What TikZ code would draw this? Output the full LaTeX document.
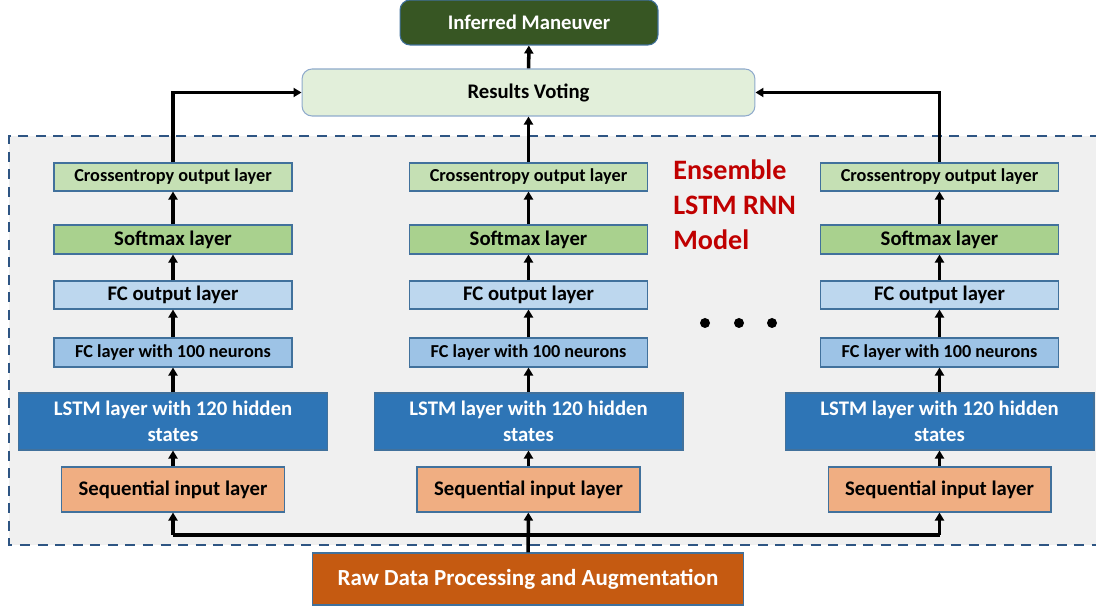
\documentclass[tikz,border=0pt]{standalone}
\usepackage{fontspec}
\setmainfont{Carlito}
\usepackage{tikz}
\usetikzlibrary{arrows.meta}
\usetikzlibrary{positioning}
\definecolor{edgeblue}{HTML}{41719C}
\definecolor{dashblue}{HTML}{2E5583}
\definecolor{panelgrey}{HTML}{F0F0F0}
\definecolor{crossgreen}{HTML}{C5E0B4}
\definecolor{softgreen}{HTML}{A9D18E}
\definecolor{fcoutblue}{HTML}{BDD7EE}
\definecolor{fchidblue}{HTML}{9DC3E6}
\definecolor{lstmblue}{HTML}{2E75B6}
\definecolor{inpeach}{HTML}{F0AE82}
\definecolor{rawbrown}{HTML}{C55A11}
\definecolor{votegreen}{HTML}{E2EFDA}
\definecolor{votedge}{HTML}{8FAACC}
\definecolor{outgreen}{HTML}{375623}
\definecolor{ensred}{HTML}{C00000}
\tikzset{layer/.style = {draw=edgeblue, rectangle, inner sep = 0, align = center,
    font = \bfseries\fontsize{11.8}{14.5}\selectfont, line width = 0.6pt}}
\tikzset{small/.style = {font = \bfseries\fontsize{10.4}{12.5}\selectfont}}
\tikzset{flow/.style = {-{Triangle[length = 0.16cm, width = 0.18cm]}, line width = 2pt}}
\tikzset{dot/.style = {fill, circle, inner sep = 0, minimum size = 0.2cm}}

\begin{document}
\begin{tikzpicture}[x = 0.02cm, y = -0.02cm]
    \useasboundingbox (0, 0) rectangle (1096, 607);
    % ensemble panel
    \fill [panelgrey] (9, 136) rectangle (1100, 545);
    \draw [dashblue, line width = 1.5pt, dash pattern = on 5.7pt off 4.3pt]
      (1100, 136) -- (9, 136) -- (9, 545) -- (1100, 545);
    \foreach \c/\x in {a/173, b/528.5, c/939.5}{
      \node [layer, small, fill = crossgreen, minimum width = 4.76cm, minimum height = 0.56cm]
        (ce\c) at (\x, 177) {Crossentropy output layer};
      \node [layer, fill = softgreen, minimum width = 4.76cm, minimum height = 0.58cm]
        (sm\c) at (\x, 239.5) {Softmax layer};
      \node [layer, fill = fcoutblue, minimum width = 4.76cm, minimum height = 0.56cm]
        (fo\c) at (\x, 295) {FC output layer};
      \node [layer, small, fill = fchidblue, minimum width = 4.76cm, minimum height = 0.58cm]
        (fh\c) at (\x, 352.5) {FC layer with 100 neurons};
      \node [layer, fill = lstmblue, text = white, minimum width = 6.18cm, minimum height = 1.14cm]
        (ls\c) at (\x, 421.5) {LSTM layer with 120 hidden\\states};
      \node [layer, fill = inpeach, minimum width = 4.46cm, minimum height = 0.9cm]
        (in\c) at (\x, 489.5) {Sequential input layer};
      \draw [flow] (in\c) -- (ls\c);
      \draw [flow] (ls\c) -- (fh\c);
      \draw [flow] (fh\c) -- (fo\c);
      \draw [flow] (fo\c) -- (sm\c);
      \draw [flow] (sm\c) -- (ce\c);
      \coordinate (fork\c) at (\x, 535);
    }
    \node [text = ensred, align = left, anchor = north west,
      font = \bfseries\fontsize{16}{20}\selectfont, inner sep = 0] (ens) at (673, 159)
      {Ensemble\\LSTM RNN\\Model};
    \node [dot] (d1) at (705, 323) {};
    \node [dot] (d2) at (739, 323) {};
    \node [dot] (d3) at (772, 323) {};
    % voting and output
    \node [layer, draw = votedge, fill = votegreen, rounded corners = 0.2cm,
      minimum width = 9.06cm, minimum height = 0.94cm] (vote) at (528.5, 92.5) {Results Voting};
    \node [layer, draw = edgeblue, fill = outgreen, text = white, rounded corners = 0.2cm,
      minimum width = 5.16cm, minimum height = 0.9cm] (infer) at (529, 22.5) {Inferred Maneuver};
    \node [layer, fill = rawbrown, text = white, font = \bfseries\fontsize{13.1}{16}\selectfont,
      minimum width = 8.64cm, minimum height = 1.04cm] (raw) at (528, 579) {Raw Data Processing and Augmentation};
    \draw [flow] (vote) -- (infer);
    \draw [flow] (ceb) -- (vote);
    \draw [flow] (cea) |- (vote.west);
    \draw [flow] (cec) |- (vote.east);
    % raw data feeds every model
    \draw [flow] (raw) -- (inb);
    \draw [line width = 2pt] (forka) -- (forkc);
    \draw [flow] (forka) -- (ina);
    \draw [flow] (forkc) -- (inc);
\end{tikzpicture}
\end{document}
